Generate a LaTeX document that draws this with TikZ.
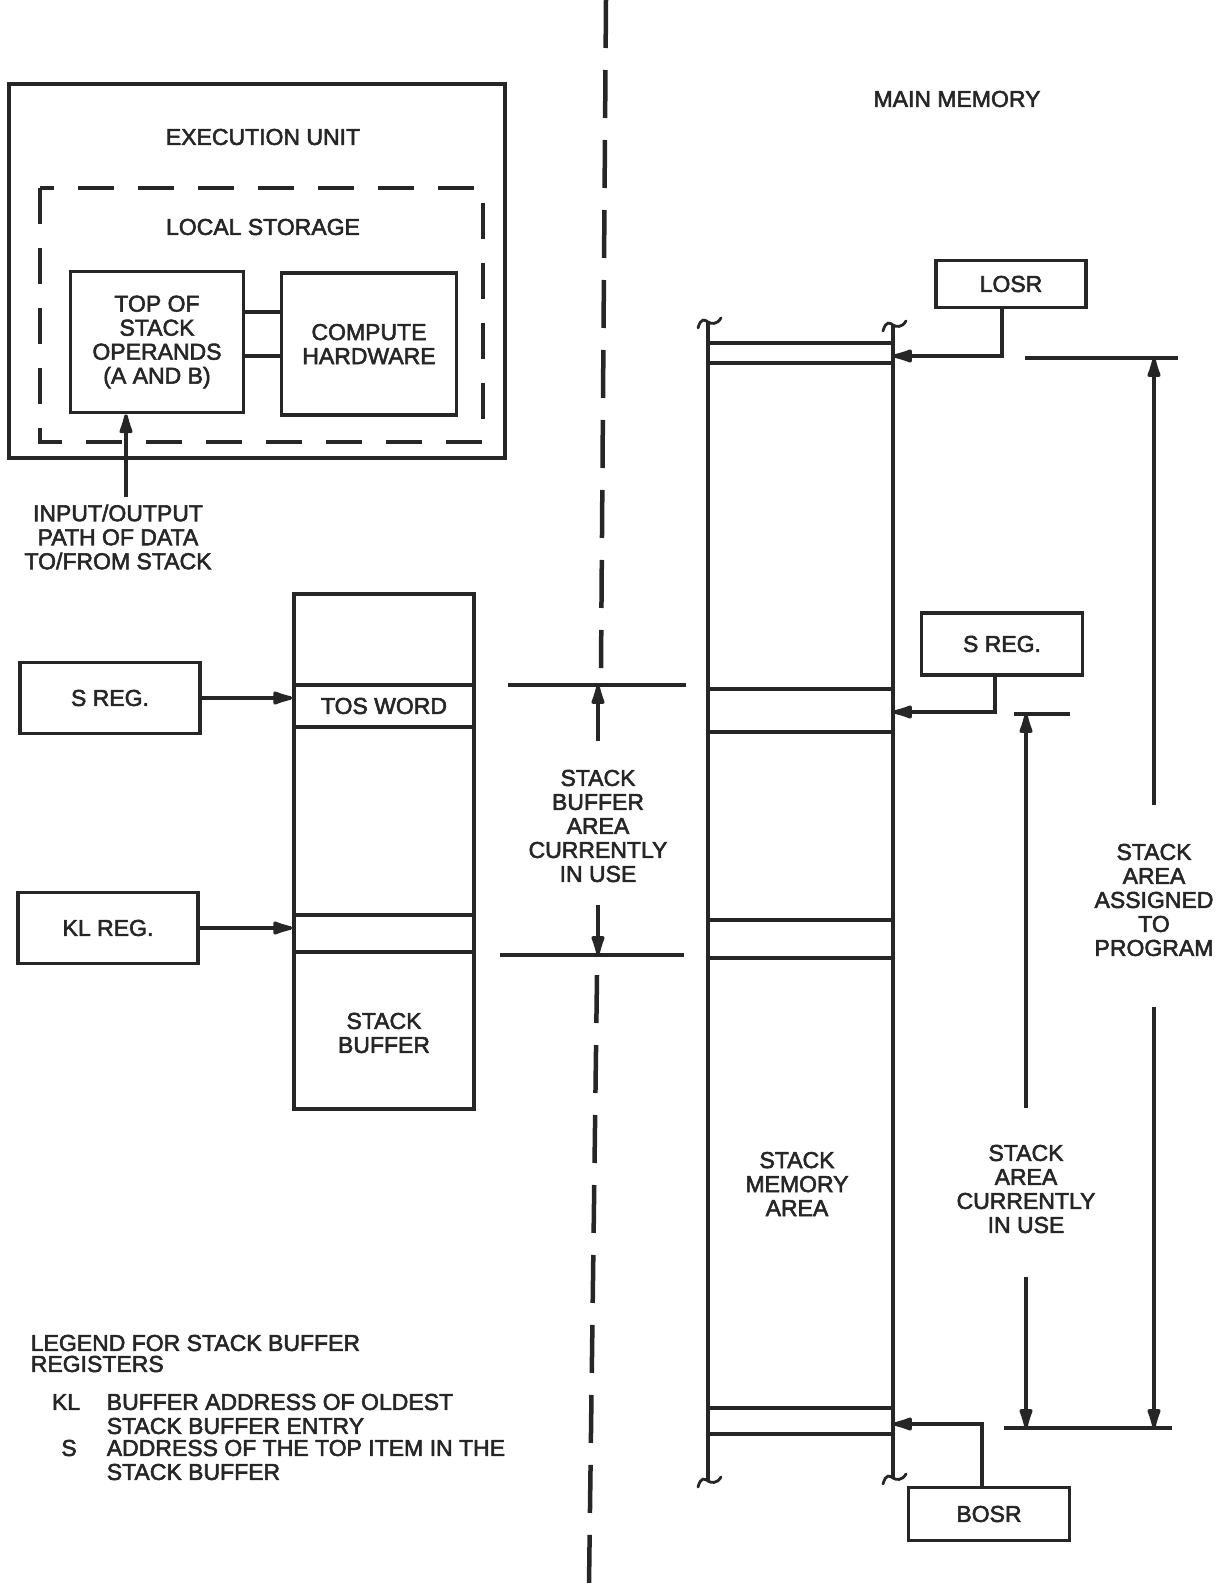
\documentclass[tikz,border=0pt]{standalone}
\usepackage{fontspec}
\setmainfont{Liberation Sans}[FakeBold=2.5]
\usetikzlibrary{arrows.meta, positioning}

\begin{document}
\begin{tikzpicture}[x=1pt,y=-1pt,line width=3.6pt,color=black!85,
    font=\fontsize{23}{24}\selectfont,
    box/.style={draw,inner sep=0pt,align=center},
    lbl/.style={inner sep=0pt,align=center},
    arr/.style={-{Latex[length=27pt,width=15pt,round]}},
    brk/.style={line width=2.8pt,line cap=round}]
    \useasboundingbox (0,0) rectangle (1225,1585);
    % execution unit
    \draw (9,84) rectangle (505,458);
    \node[lbl](eut) at (263,137){EXECUTION UNIT};
    \draw[dash pattern=on 36pt off 24pt] (40,188) rectangle (483,442);
    \node[lbl](lst) at (263,227){LOCAL STORAGE};
    \node[box,minimum width=173pt,minimum height=141pt](tos) at (157,342){TOP OF\\STACK\\OPERANDS\\(A AND B)};
    \node[box,minimum width=175pt,minimum height=142pt](cmp) at (369,344){COMPUTE\\HARDWARE};
    \coordinate(ln1) at (0,312);
    \coordinate(ln2) at (0,356);
    \draw(tos.east|-ln1)--(cmp.west|-ln1);
    \draw(tos.east|-ln2)--(cmp.west|-ln2);
    \node[lbl](iot) at (118,537){INPUT/OUTPUT\\PATH OF DATA\\TO/FROM STACK};
    \coordinate(iop) at (126,497);
    \draw[arr](iop)--(iop|-tos.south);
    % stack buffer
    \node[box,minimum width=180pt,minimum height=515pt](sbuf) at (384,851.5){};
    \node[box,minimum width=180pt,minimum height=42pt](tosw) at (384,706){TOS WORD};
    \node[box,minimum width=180pt,minimum height=37pt](klw) at (384,933.5){};
    \node[lbl](sbt) at (384,1033){STACK\\BUFFER};
    \node[box,minimum width=180pt,minimum height=71pt](sregl) at (110,698){S REG.};
    \node[box,minimum width=180pt,minimum height=71pt](klreg) at (108,928){KL REG.};
    \draw[arr](sregl.east)--(sregl.east-|tosw.west);
    \draw[arr](klreg.east)--(klreg.east-|klw.west);
    % buffer area in use
    \coordinate(dtl) at (508,685); \coordinate(dtr) at (686,685);
    \coordinate(dbl) at (500,955); \coordinate(dbr) at (684,955);
    \draw(dtl)--(dtr); \draw(dbl)--(dbr);
    \node[lbl](sba) at (598,826){STACK\\BUFFER\\AREA\\CURRENTLY\\IN USE};
    \draw[arr]([yshift=27pt]sba.north)--(sba.north|-dtl);
    \draw[arr]([yshift=-21pt]sba.south)--(sba.south|-dbl);
    % divider
    \draw[line width=4.5pt,dash pattern=on 48pt off 22pt](606,0)--(601,668);
    \draw[line width=4.5pt,dash pattern=on 48pt off 22pt](597,975)--(589,1585);
    % main memory
    \node[lbl](mm) at (957,99){MAIN MEMORY};
    \coordinate(ml) at (708,0); \coordinate(mr) at (893,0);
    \draw(708,322)--(708,1481);
    \draw(893,325)--(893,1478);
    \foreach \y in {343,363,689,732,920,958,1408,1434}
      \draw(708,\y)--(893,\y);
    \foreach \x/\y in {708/322,893/325,708/1481,893/1478}
      \draw[brk](\x-10,\y+6) .. controls (\x-7,\y-5) and (\x-3,\y-2) .. (\x,\y) .. controls (\x+3,\y+2) and (\x+9,\y+3) .. (\x+13,\y-4);
    \node[box,minimum width=150pt,minimum height=47pt](losr) at (1011,284){LOSR};
    \node[box,minimum width=161pt,minimum height=62pt](sregr) at (1002,644){S REG.};
    \node[box,minimum width=161pt,minimum height=53pt](bosr) at (989,1514){BOSR};
    \coordinate(lsp) at (0,356); \coordinate(ssp) at (0,712); \coordinate(bsp) at (0,1424);
    \draw[arr]([xshift=-9pt]losr.south)|-(mr|-lsp);
    \draw[arr]([xshift=-7pt]sregr.south)|-(mr|-ssp);
    \draw[arr]([xshift=-7pt]bosr.north)|-(mr|-bsp);
    % stack area dimensions
    \coordinate(atl) at (1025,358); \coordinate(atr) at (1178,358);
    \coordinate(abl) at (1004,1428); \coordinate(abr) at (1172,1428);
    \coordinate(utl) at (1014,714); \coordinate(utr) at (1070,714);
    \draw(atl)--(atr); \draw(abl)--(abr); \draw(utl)--(utr);
    \node[lbl](sap) at (1154,900){STACK\\AREA\\ASSIGNED\\TO\\PROGRAM};
    \draw[arr]([yshift=37pt]sap.north)--(sap.north|-atl);
    \draw[arr]([yshift=-49pt]sap.south)--(sap.south|-abl);
    \node[lbl](sau) at (1026,1189){STACK\\AREA\\CURRENTLY\\IN USE};
    \draw[arr]([yshift=35pt]sau.north)--(sau.north|-utl);
    \draw[arr]([yshift=-42pt]sau.south)--(sau.south|-abl);
    \node[lbl](sma) at (797,1184){STACK\\MEMORY\\AREA};
    % legend
    \node[lbl,anchor=west,align=left,font=\fontsize{23}{21}\selectfont](lgd) at (29,1353.5){LEGEND FOR STACK BUFFER\\REGISTERS};
    \node[lbl](lkl) at (66,1402){KL};
    \node[lbl,anchor=west,align=left](lkld) at (105,1414){BUFFER ADDRESS OF OLDEST\\STACK BUFFER ENTRY};
    \node[lbl](ls) at (69,1448){S};
    \node[lbl,anchor=west,align=left](lsd) at (105,1460){ADDRESS OF THE TOP ITEM IN THE\\STACK BUFFER};
\end{tikzpicture}
\end{document}
